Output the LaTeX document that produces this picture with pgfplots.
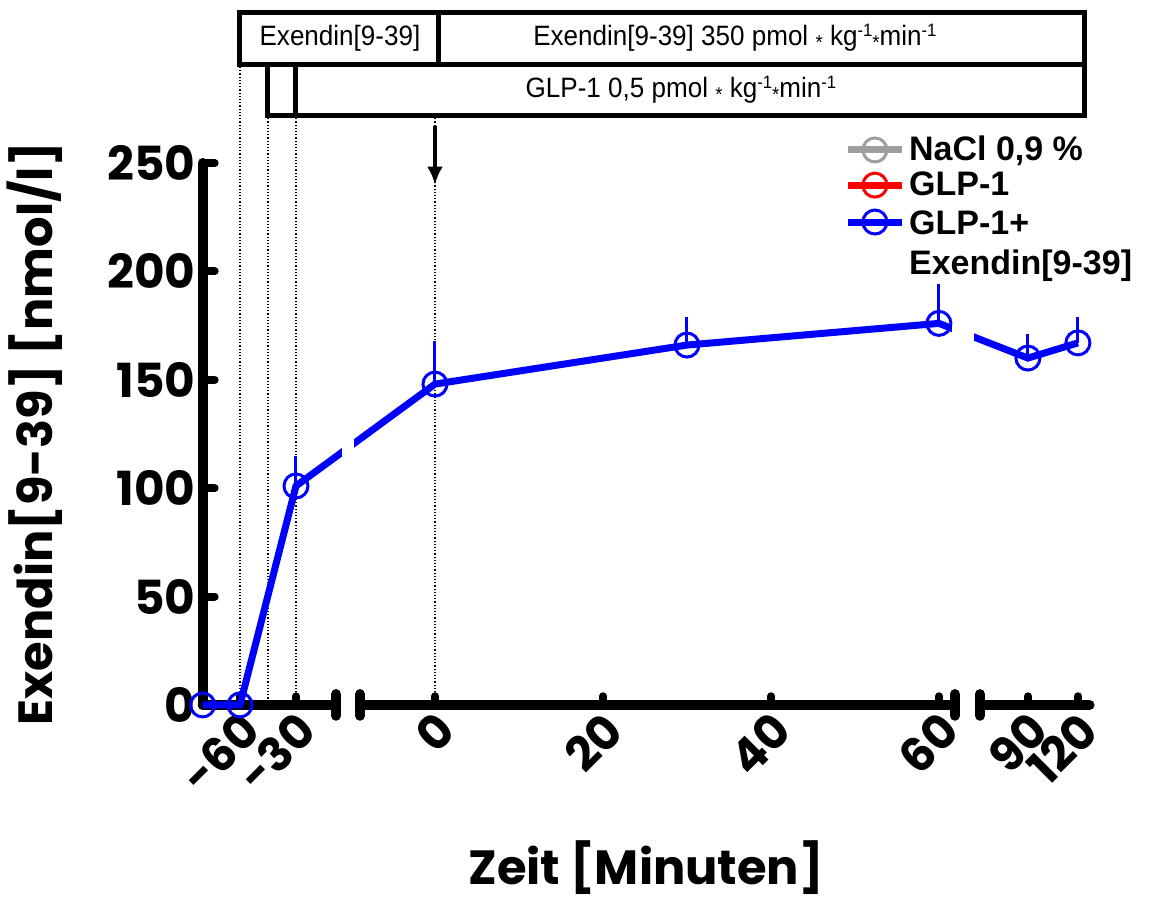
\documentclass[border=0pt]{standalone}
\usepackage{fontspec}
\setmainfont{Poppins}
\newfontfamily\legfont{Liberation Sans}
\newfontfamily\boxfont{Liberation Sans}[FakeStretch=0.93]
\usepackage{pgfplots}
\usepackage{pgfplotstable}
\pgfplotsset{compat=1.18}
\usetikzlibrary{arrows.meta}

% time [min], Exendin[9-39] [nmol/l], upper error
\pgfplotstableread{
t y err
-80 0 0
-60 0 0
-30 101 14
0 148 20
30 166 13
60 176 18
90 160 11
120 167 12
}\exendin

\newcommand\sups[1]{\raisebox{0.6ex}{\fontsize{9}{9}\selectfont #1}}
\newcommand\mulstar{\raisebox{-0.25ex}{\fontsize{10}{10}\selectfont *}}

\begin{document}
\begin{tikzpicture}
\begin{axis}[
    scale only axis,
    width=443.5pt, height=271pt,
    clip=false,
    % broken time axis: three pieces with their own scales
    x coord trafo/.code={\pgfmathparse{#1<-15 ? 296+(#1+30)*56/30 : (#1<75 ? 435+#1*8.4 : 1028+(#1-90)*5/3)}},
    xmin=-80, xmax=127,
    ymin=0, ymax=250,
    axis y line*=left,
    axis x line*=bottom,
    x axis line style={draw=none},
    y axis line style={line width=5pt, line cap=round, black},
    xtick={-60,-30,0,20,40,60,90,120},
    xticklabels={-60,-30,0,20,40,60,90,120},
    xtick style={draw=none},
    ytick={0,50,100,150,200,250},
    ytick style={line width=4pt, line cap=round, black},
    major tick length=6pt,
    tick align=inside,
    /pgf/number format/assume math mode=true,
    ticklabel style={font=\fontsize{23.5}{27}\selectfont\bfseries, text=black},
    xticklabel style={rotate=45, anchor=east, xshift=1.5pt, yshift=-10pt},
    yticklabel style={anchor=east},
    xlabel={Zeit [Minuten]},
    ylabel={Exendin[9-39] [nmol/l]},
    label style={font=\fontsize{24}{28}\selectfont\bfseries},
    xlabel style={at={(axis description cs:0.5,-0.30)}, anchor=center},
    ylabel style={at={(axis description cs:-0.189,0.5)}, anchor=center, rotate=0},
    legend style={at={(rel axis cs:0.716,1.065)}, anchor=north west,
      draw=none, fill=none, font=\fontsize{17}{20}\selectfont\legfont\bfseries,
      row sep=0pt},
    legend cell align=left,
    legend image code/.code={\draw[mark repeat=2,mark phase=2,#1] plot coordinates {(0cm,0cm) (0.48cm,0cm) (0.95cm,0cm)};},
]
% dotted guide lines
\draw[densely dotted, line width=0.6pt] (axis cs:-60,0) -- (axis cs:-60,295.2);
\draw[densely dotted, line width=0.6pt] (axis cs:-45,0) -- (axis cs:-45,272.1);
\draw[densely dotted, line width=0.6pt] (axis cs:-30,0) -- (axis cs:-30,272.1);
\draw[densely dotted, line width=0.6pt] (axis cs:0,0) -- (axis cs:0,272.1);

% infusion boxes
\draw[line width=2.5pt] (axis cs:-60,295.2) rectangle (axis cs:124,319.6);
\draw[line width=2.5pt] (axis cs:0.4,295.2) -- (axis cs:0.4,319.6);
\draw[line width=2.5pt] (axis cs:-45,272.1) rectangle (axis cs:124,295.2);
\draw[line width=2.5pt] (axis cs:-30,272.1) -- (axis cs:-30,295.2);
\node[font=\boxfont\fontsize{14}{16}\selectfont] at (rel axis cs:0.1548,1.2297) {Exendin[9-39]};
\node[font=\boxfont\fontsize{14}{16}\selectfont] at (rel axis cs:0.6001,1.2306) {Exendin[9-39] 350 pmol \mulstar\ kg\sups{-1}\mulstar min\sups{-1}};
\node[font=\boxfont\fontsize{14}{16}\selectfont] at (rel axis cs:0.5393,1.1347) {GLP-1 0,5 pmol \mulstar\ kg\sups{-1}\mulstar min\sups{-1}};
\draw[line width=2pt, -{Latex[length=9pt,width=8pt]}] (axis cs:0,267) -- (axis cs:0,240);

% broken x axis
\draw[line width=5pt, line cap=round] (rel axis cs:0,0) -- (rel axis cs:0.1503,0);
\draw[line width=5pt, line cap=round] (rel axis cs:0.1774,0) -- (rel axis cs:0.8481,0);
\draw[line width=5pt, line cap=round] (rel axis cs:0.8763,0) -- (rel axis cs:1,0);
\draw[line width=5pt, line cap=round] (rel axis cs:0.1503,-0.02) -- (rel axis cs:0.1503,0.02);
\draw[line width=5pt, line cap=round] (rel axis cs:0.1774,-0.02) -- (rel axis cs:0.1774,0.02);
\draw[line width=5pt, line cap=round] (rel axis cs:0.8481,-0.02) -- (rel axis cs:0.8481,0.02);
\draw[line width=5pt, line cap=round] (rel axis cs:0.8763,-0.02) -- (rel axis cs:0.8763,0.02);
\pgfplotsinvokeforeach{-60,-30,0,20,40,60,90,120}{
  \draw[line width=4pt, line cap=round] (axis cs:#1,0) -- (axis cs:#1,4);
}

\addlegendimage{color=black!38, line width=3.5pt, mark=o, mark size=6pt, mark options={line width=1.5pt, fill=white}}
\addlegendentry{NaCl 0,9 \%}
\addlegendimage{color=red, line width=3.5pt, mark=o, mark size=6pt, mark options={line width=1.5pt, fill=white}}
\addlegendentry{GLP-1}

\addplot[color=blue, line width=3.5pt, mark=o, mark size=6pt,
  mark options={line width=1.5pt},
  error bars/.cd, y dir=plus, y explicit, error mark=none,
  error bar style={line width=1.5pt}]
  table[x=t, y=y, y error=err] {\exendin};
\addlegendentry{\begin{tabular}[t]{@{}l@{}}GLP-1+\\Exendin[9-39]\end{tabular}}

% gaps of the line at the axis breaks
\fill[white] (rel axis cs:0.1571,0.1) rectangle (rel axis cs:0.1706,0.9);
\fill[white] (rel axis cs:0.845,0.1) rectangle (rel axis cs:0.870,0.9);

\coordinate (bbsw) at (rel axis cs:-0.2285,-0.3579);
\coordinate (bbne) at (rel axis cs:1.0760,1.3007);
\end{axis}
\pgfresetboundingbox
\path (bbsw) rectangle (bbne);
\end{tikzpicture}
\end{document}
